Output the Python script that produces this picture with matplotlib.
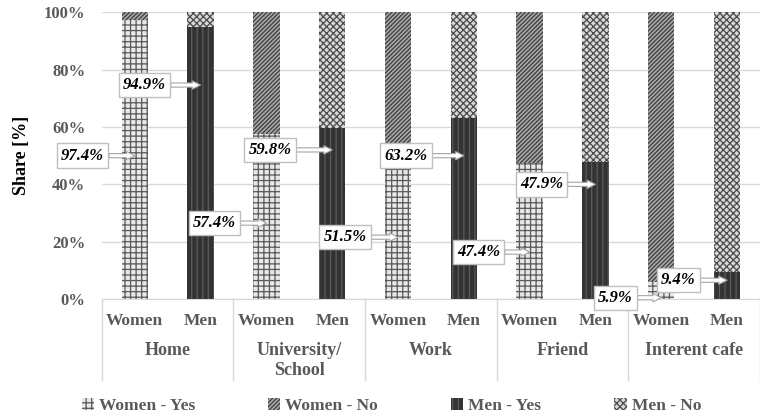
import matplotlib
matplotlib.use("Agg")
import matplotlib.pyplot as plt
import numpy as np

places = ["Home", "University/\nSchool", "Work", "Friend", "Interent cafe"]
groups = ["Women", "Men"]
women_yes = [97.4, 57.4, 51.5, 47.4, 5.9]
men_yes = [94.9, 59.8, 63.2, 47.9, 9.4]
women_no = [100 - v for v in women_yes]
men_no = [100 - v for v in men_yes]

# where each callout arrow touches its bar (percent height) and text offset in px
women_tip = [50, 26.5, 21.6, 16.4, 0.5]
men_tip = [74.6, 52, 50, 40, 6.6]
women_dx = [-52, -52, -53, -51, -46]
men_dx = [-56, -62, -58, -54, -49]

plt.rcParams['font.family'] = ['Liberation Serif', 'DejaVu Serif']
plt.rcParams['hatch.linewidth'] = 0.9
grey = '#595959'

fig = plt.figure(figsize=(7.6, 4.19), dpi=100)
ax = fig.add_axes([0.134, 0.286, 0.866, 0.685])

xw = np.arange(5) * 2
xm = xw + 1
w = 0.4
b1 = ax.bar(xw, women_yes, w, color='#e8e8e8', edgecolor='#5a5a5a', hatch='+++', lw=0, label='Women - Yes')
b2 = ax.bar(xw, women_no, w, bottom=women_yes, color='#a8a8a8', edgecolor='#3c3c3c', hatch='////////', lw=0, label='Women - No')
b3 = ax.bar(xm, men_yes, w, color='#333333', edgecolor='#5a5a5a', hatch='|||', lw=0, label='Men - Yes')
b4 = ax.bar(xm, men_no, w, bottom=men_yes, color='#d8d8d8', edgecolor='#4a4a4a', hatch='xxxxx', lw=0, label='Men - No')

ax.set_xlim(-0.5, 9.5)
ax.set_ylim(0, 100)
ax.set_yticks(range(0, 101, 20))
ax.set_yticklabels([f"{v}%" for v in range(0, 101, 20)], fontsize=12, fontweight='bold', color=grey)
ax.yaxis.grid(True, color='#d9d9d9', lw=1)
ax.set_axisbelow(True)
for s in ['left', 'right', 'top']:
    ax.spines[s].set_visible(False)
ax.spines['bottom'].set_color('#d9d9d9')
ax.tick_params(axis='y', length=0, pad=12)
ax.set_ylabel('Share [%]', fontsize=13, fontweight='bold', labelpad=10)

ax.set_xticks(list(xw) + list(xm))
ax.set_xticklabels(['Women'] * 5 + ['Men'] * 5, fontsize=12.5, fontweight='bold', color=grey)
ax.tick_params(axis='x', length=0, pad=10)

trans = ax.get_xaxis_transform()
for i, p in enumerate(places):
    ax.text(2 * i + 0.5, -0.15, p, transform=trans, ha='center', va='top',
            fontsize=13, fontweight='bold', color=grey, linespacing=1.2)
for xs in [-0.5, 1.5, 3.5, 5.5, 7.5, 9.5]:
    ax.plot([xs, xs], [0, -0.28], transform=trans, color='#d9d9d9', lw=1, clip_on=False)

box = dict(boxstyle='square,pad=0.25', fc='white', ec='#bfbfbf', lw=1)
arrow = dict(arrowstyle='simple,head_width=0.5,head_length=0.5,tail_width=0.25',
             fc='white', ec='#a6a6a6', lw=0.8, shrinkA=0, shrinkB=0)
for i in range(5):
    ax.annotate(f"{women_yes[i]}%", xy=(xw[i], women_tip[i]), xytext=(women_dx[i], 0),
                textcoords='offset pixels', ha='center', va='center', fontsize=12,
                fontweight='bold', fontstyle='italic', bbox=box, arrowprops=arrow)
    ax.annotate(f"{men_yes[i]}%", xy=(xm[i], men_tip[i]), xytext=(men_dx[i], 0),
                textcoords='offset pixels', ha='center', va='center', fontsize=12,
                fontweight='bold', fontstyle='italic', bbox=box, arrowprops=arrow)

leg = fig.legend(handles=[b1, b2, b3, b4], loc='lower center', bbox_to_anchor=(0.515, -0.025), ncol=4,
                 frameon=False, handlelength=0.7, handleheight=0.7,
                 handletextpad=0.3, columnspacing=4.2, prop={'weight': 'bold', 'size': 12.5})
for t in leg.get_texts():
    t.set_color(grey)

fig.savefig('out.png', dpi=100)
